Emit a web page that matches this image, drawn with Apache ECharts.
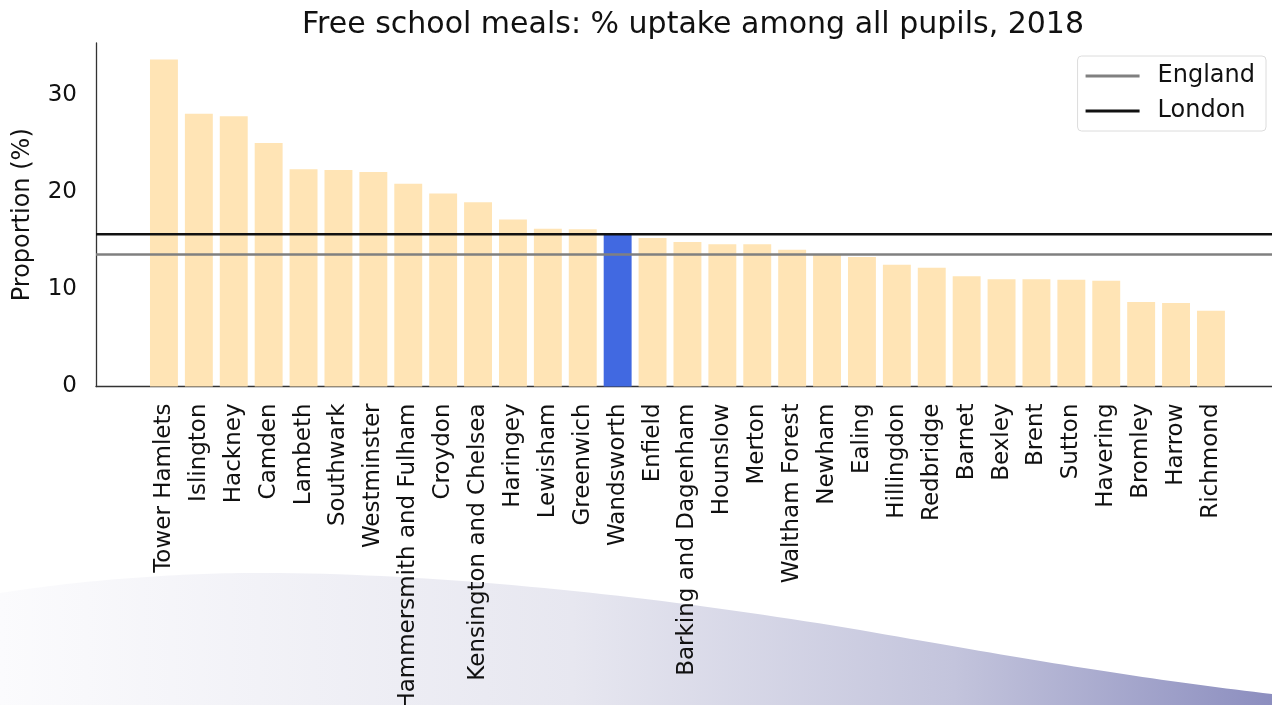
<!DOCTYPE html>
<html>
<head>
<meta charset="utf-8">
<title>Free school meals</title>
<script src="https://cdn.jsdelivr.net/npm/echarts@6/dist/echarts.min.js"></script>
<style>
  html, body { margin: 0; padding: 0; background: #fff; }
  #mychart { width: 1272px; height: 705px; }
</style>
</head>
<body>
<div id="mychart"></div>
<script>
// boroughs, sorted by uptake
var boroughs = ['Tower Hamlets', 'Islington', 'Hackney', 'Camden', 'Lambeth', 'Southwark',
  'Westminster', 'Hammersmith and Fulham', 'Croydon', 'Kensington and Chelsea', 'Haringey',
  'Lewisham', 'Greenwich', 'Wandsworth', 'Enfield', 'Barking and Dagenham', 'Hounslow',
  'Merton', 'Waltham Forest', 'Newham', 'Ealing', 'Hillingdon', 'Redbridge', 'Barnet',
  'Bexley', 'Brent', 'Sutton', 'Havering', 'Bromley', 'Harrow', 'Richmond'];
var uptake = [33.7, 28.1, 27.85, 25.1, 22.4, 22.3, 22.1, 20.9, 19.9, 19.0, 17.2,
  16.25, 16.2, 15.65, 15.3, 14.9, 14.65, 14.65, 14.1, 13.6, 13.35, 12.55, 12.25, 11.35,
  11.05, 11.05, 11.0, 10.9, 8.7, 8.6, 7.8];
var englandValue = 13.6;
var londonValue = 15.7;
var highlight = 'Wandsworth';
var yTicks = [0, 10, 20, 30];

var myChart = echarts.init(document.getElementById('mychart'));

var barData = boroughs.map(function (b, i) {
  return {
    value: uptake[i],
    itemStyle: { color: b === highlight ? '#4169E1' : '#FFE4B5' }
  };
});

// decorative wave at the bottom of the slide (not data)
function wavePoints() {
  var segs = [
    [[0, 593], [90, 579], [190, 572], [280, 573]],
    [[280, 573], [470, 575], [680, 600], [860, 630]],
    [[860, 630], [1030, 660], [1150, 680], [1272, 694]]
  ];
  var pts = [];
  segs.forEach(function (s) {
    for (var k = 0; k <= 40; k++) {
      var t = k / 40, u = 1 - t;
      pts.push([
        u*u*u*s[0][0] + 3*u*u*t*s[1][0] + 3*u*t*t*s[2][0] + t*t*t*s[3][0],
        u*u*u*s[0][1] + 3*u*u*t*s[1][1] + 3*u*t*t*s[2][1] + t*t*t*s[3][1]
      ]);
    }
  });
  pts.push([1272, 705], [0, 705]);
  return pts;
}

var option = {
  animation: false,
  textStyle: { fontFamily: 'DejaVu Sans' },
  title: {
    text: 'Free school meals: % uptake among all pupils, 2018',
    left: 688,
    top: 5,
    textAlign: 'center',
    textStyle: { fontSize: 30, fontWeight: 'normal', color: '#111', fontFamily: 'DejaVu Sans' }
  },
  legend: {
    orient: 'vertical',
    right: 6,
    top: 56,
    padding: [8, 11, 8, 8],
    itemGap: 11,
    itemWidth: 54,
    itemHeight: 3,
    borderColor: '#dcdcdc',
    borderWidth: 1,
    borderRadius: 4,
    textStyle: { fontSize: 24, color: '#111', padding: [0, 0, 0, 13] },
    data: [{ name: 'England', icon: 'rect' }, { name: 'London', icon: 'rect' }]
  },
  graphic: [{
    type: 'polygon',
    z: -10,
    silent: true,
    shape: { points: wavePoints() },
    style: {
      fill: new echarts.graphic.LinearGradient(0, 0, 1, 0, [
        { offset: 0, color: '#fbfbfd' },
        { offset: 0.45, color: '#e7e7f0' },
        { offset: 0.75, color: '#c3c4dc' },
        { offset: 1, color: '#8c8ebf' }
      ])
    }
  }],
  grid: [
    { left: 96, right: 0, top: 43, bottom: 318.5, outerBoundsMode: 'none' },
    { left: 146.5, right: 43.6, top: 43, bottom: 318.5, outerBoundsMode: 'none' }
  ],
  xAxis: [
    {
      gridIndex: 0, type: 'value', min: 0, max: 1,
      axisLine: { show: true, lineStyle: { color: '#333', width: 1.3 } },
      axisTick: { show: false }, axisLabel: { show: false }, splitLine: { show: false }
    },
    {
      gridIndex: 1, type: 'category', data: boroughs,
      axisLine: { show: false }, axisTick: { show: false },
      axisLabel: { interval: 0, rotate: 90, fontSize: 23, color: '#111', margin: 17 }
    }
  ],
  yAxis: [
    {
      gridIndex: 0, type: 'value', min: 0, max: 35.4, interval: 10,
      name: 'Proportion (%)', nameLocation: 'middle', nameGap: 61, nameRotate: 90,
      nameTextStyle: { fontSize: 24, color: '#111' },
      axisLine: { show: true, lineStyle: { color: '#333', width: 1.3 } },
      axisTick: { show: false }, splitLine: { show: false },
      axisLabel: {
        fontSize: 23, color: '#111', margin: 19,
        formatter: function (v) { return yTicks.indexOf(v) >= 0 ? String(v) : ''; }
      }
    },
    {
      gridIndex: 1, type: 'value', min: 0, max: 35.4, show: false
    }
  ],
  series: [
    {
      name: 'uptake', type: 'bar', xAxisIndex: 1, yAxisIndex: 1,
      barWidth: '80%', data: barData, z: 2
    },
    {
      name: 'England', type: 'line', xAxisIndex: 0, yAxisIndex: 0,
      data: [[0, englandValue], [1, englandValue]], symbol: 'none', z: 5,
      color: '#808080', lineStyle: { color: '#808080', width: 2.5 }
    },
    {
      name: 'London', type: 'line', xAxisIndex: 0, yAxisIndex: 0,
      data: [[0, londonValue], [1, londonValue]], symbol: 'none', z: 6,
      color: '#111', lineStyle: { color: '#111', width: 2.5 }
    }
  ]
};

if (option && typeof option === "object") {
  myChart.setOption(option, true);
}
</script>
</body>
</html>
